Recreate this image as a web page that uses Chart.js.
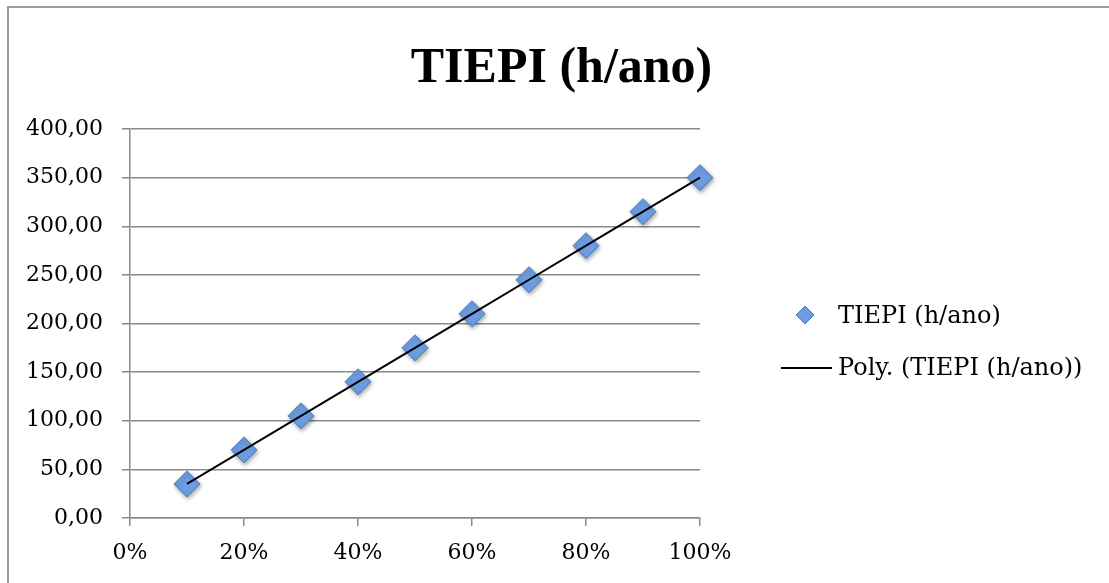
<!DOCTYPE html>
<html>
<head>
<meta charset="utf-8">
<script src="https://cdn.jsdelivr.net/npm/chart.js@4.4.1/dist/chart.umd.min.js"></script>
<style>
  html, body { margin: 0; padding: 0; background: #fff; overflow: hidden; }
  #wrap { position: relative; width: 1109px; height: 583px; }
  /* moldura cinza do gráfico (só topo e esquerda aparecem) */
  #frame { position: absolute; left: 7px; top: 6px; width: 1200px; height: 700px;
           border-top: 2px solid #9a9a9a; border-left: 2px solid #9a9a9a; }
  canvas { position: absolute; left: 0; top: 0; }
</style>
</head>
<body>
<div id="wrap">
  <div id="frame"></div>
  <canvas id="tiepiChart" width="1109" height="583"></canvas>
</div>
<script>
// --- DADOS ---
const titleText = 'TIEPI (h/ano)';
const seriesName = 'TIEPI (h/ano)';
const trendName = 'Poly. (TIEPI (h/ano))';
const shares = [0.1, 0.2, 0.3, 0.4, 0.5, 0.6, 0.7, 0.8, 0.9, 1.0];
const tiepi = [35, 70, 105, 140, 175, 210, 245, 280, 315, 350];

// cores / fontes
const gridColor = '#8a8a8a';
const diamondFill = '#6d9de0';
const diamondBorder = '#4a7cc0';
const serif = 'DejaVu Serif';

// linha de tendência polinomial (ordem 2) por mínimos quadrados
function polyFit2(xs, ys) {
  let s = [0, 0, 0, 0, 0], t = [0, 0, 0];
  xs.forEach((x, i) => {
    for (let k = 0; k < 5; k++) s[k] += Math.pow(x, k);
    for (let k = 0; k < 3; k++) t[k] += ys[i] * Math.pow(x, k);
  });
  const m = [[s[0], s[1], s[2], t[0]], [s[1], s[2], s[3], t[1]], [s[2], s[3], s[4], t[2]]];
  for (let c = 0; c < 3; c++) {
    for (let r = c + 1; r < 3; r++) {
      const f = m[r][c] / m[c][c];
      for (let k = c; k < 4; k++) m[r][k] -= f * m[c][k];
    }
  }
  const b = [0, 0, 0];
  for (let r = 2; r >= 0; r--) {
    let v = m[r][3];
    for (let k = r + 1; k < 3; k++) v -= m[r][k] * b[k];
    b[r] = v / m[r][r];
  }
  return x => b[0] + b[1] * x + b[2] * x * x;
}
const trend = polyFit2(shares, tiepi);

// sombra dos losangos
const shadowPlugin = {
  id: 'diamondShadow',
  beforeDatasetDraw(chart, args) {
    if (args.index !== 0) return;
    const ctx = chart.ctx;
    ctx.save();
    ctx.shadowColor = 'rgba(0,0,0,0.35)';
    ctx.shadowBlur = 4;
    ctx.shadowOffsetX = 1;
    ctx.shadowOffsetY = 2;
  },
  afterDatasetDraw(chart, args) {
    if (args.index !== 0) return;
    chart.ctx.restore();
  }
};

// título e legenda desenhados à mão
const decorPlugin = {
  id: 'decor',
  afterDraw(chart) {
    const ctx = chart.ctx;
    const area = chart.chartArea;
    ctx.save();
    ctx.fillStyle = '#000';
    ctx.font = 'bold 50px "Liberation Serif"';
    ctx.textAlign = 'center';
    ctx.textBaseline = 'alphabetic';
    ctx.fillText(titleText, chart.width / 2 + 7, 82);

    // item 1: losango
    const lx = area.right + 105, ly = 315;
    const r = 9;
    ctx.beginPath();
    ctx.moveTo(lx, ly - r);
    ctx.lineTo(lx + r, ly);
    ctx.lineTo(lx, ly + r);
    ctx.lineTo(lx - r, ly);
    ctx.closePath();
    ctx.fillStyle = diamondFill;
    ctx.fill();
    ctx.lineWidth = 1;
    ctx.strokeStyle = diamondBorder;
    ctx.stroke();

    ctx.font = '24px "' + serif + '"';
    ctx.textAlign = 'left';
    ctx.textBaseline = 'middle';
    ctx.fillStyle = '#000';
    ctx.fillText(seriesName, area.right + 138, 317);

    // item 2: linha de tendência
    ctx.beginPath();
    ctx.moveTo(area.right + 81, 368);
    ctx.lineTo(area.right + 132, 368);
    ctx.lineWidth = 2;
    ctx.strokeStyle = '#000';
    ctx.stroke();
    ctx.fillText(trendName, area.right + 138, 369);
    ctx.restore();
  }
};

const ctx = document.getElementById('tiepiChart').getContext('2d');
new Chart(ctx, {
  type: 'scatter',
  data: {
    datasets: [
      {
        label: seriesName,
        data: shares.map((x, i) => ({ x: x, y: tiepi[i] })),
        pointStyle: 'rectRot',
        pointRadius: 13,
        pointHoverRadius: 13,
        backgroundColor: diamondFill,
        borderColor: diamondBorder,
        borderWidth: 1,
        clip: false,
        order: 1
      },
      {
        label: trendName,
        type: 'line',
        data: shares.map(x => ({ x: x, y: trend(x) })),
        borderColor: '#000',
        borderWidth: 2,
        pointRadius: 0,
        fill: false,
        tension: 0,
        clip: false,
        order: 0
      }
    ]
  },
  options: {
    responsive: false,
    devicePixelRatio: 1,
    animation: false,
    layout: { padding: { top: 129, right: 409, bottom: 0, left: 0 } },
    plugins: { legend: { display: false }, tooltip: { enabled: false }, title: { display: false } },
    scales: {
      x: {
        type: 'linear',
        min: 0, max: 1,
        afterFit: s => { s.height = 65; },
        ticks: {
          stepSize: 0.2,
          color: '#000',
          padding: 14,
          font: { family: serif, size: 22 },
          callback: v => Math.round(v * 100) + '%'
        },
        grid: { drawOnChartArea: false, color: gridColor, tickLength: 8, lineWidth: 1.5 },
        border: { color: gridColor, width: 1.5 }
      },
      y: {
        min: 0, max: 400,
        afterFit: s => { s.width = 130; },
        ticks: {
          stepSize: 50,
          color: '#000',
          padding: 19,
          font: { family: serif, size: 22 },
          callback: v => v.toFixed(2).replace('.', ',')
        },
        grid: { color: gridColor, tickLength: 8, lineWidth: 1.5 },
        border: { color: gridColor, width: 1.5 }
      }
    }
  },
  plugins: [shadowPlugin, decorPlugin]
});
</script>
</body>
</html>
